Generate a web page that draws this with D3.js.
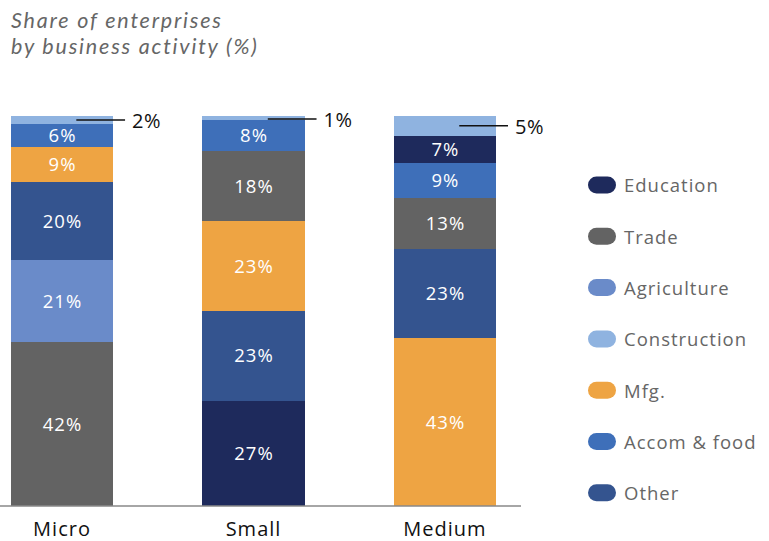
<!DOCTYPE html>
<html>
<head>
<meta charset="utf-8">
<script src="https://cdn.jsdelivr.net/npm/d3@7/dist/d3.min.js"></script>
<style>
  html, body { margin: 0; padding: 0; background: #fff; }
  svg { display: block; font-family: "Open Sans", "Noto Sans", sans-serif; }
</style>
</head>
<body>
<svg id="chart" width="769" height="541"></svg>
<script>
// Firm size groups along the x axis
const sizes = ["Micro", "Small", "Medium"];

// Activities, listed in legend order
const activities = ["Education", "Trade", "Agriculture", "Construction", "Mfg.", "Accom & food", "Other"];
const activityColors = ["#1e2a5c", "#636363", "#6a8bc9", "#8fb3e0", "#eea443", "#3e6fb9", "#34548f"];

// Stack order inside each bar, bottom to top, with share (%) of enterprises
const microStack = ["Trade", "Agriculture", "Other", "Mfg.", "Accom & food", "Construction"];
const microValues = [42, 21, 20, 9, 6, 2];

const smallStack = ["Education", "Other", "Mfg.", "Trade", "Accom & food", "Construction"];
const smallValues = [27, 23, 23, 18, 8, 1];

const mediumStack = ["Mfg.", "Other", "Trade", "Accom & food", "Education", "Construction"];
const mediumValues = [43, 23, 13, 9, 7, 5];

const titleLines = ["Share of enterprises", "by business activity (%)"];

// Build stacked segments per bar
const stacks = [microStack, smallStack, mediumStack];
const values = [microValues, smallValues, mediumValues];
const segments = [];
sizes.forEach((s, i) => {
  let acc = 0;
  stacks[i].forEach((a, j) => {
    const v = values[i][j];
    segments.push({ size: s, activity: a, value: v, y0: acc, y1: acc + v });
    acc += v;
  });
});

const svg = d3.select("#chart");
const color = d3.scaleOrdinal().domain(activities).range(activityColors);

const x = d3.scaleBand().domain(sizes).range([11, 496]).paddingInner(0.467).paddingOuter(0);
const y = d3.scaleLinear().domain([0, 100]).range([506, 116]);

// Title, two lines
svg.append("g").selectAll("text").data(titleLines).join("text")
  .attr("x", 11).attr("y", (d, i) => 28 + i * 26)
  .attr("fill", "#666").attr("font-size", 21.5).attr("font-style", "italic")
  .attr("font-family", "Lato, \"Open Sans\", sans-serif")
  .attr("letter-spacing", 1.8)
  .text(d => d);

// Bars
svg.append("g").attr("shape-rendering", "crispEdges")
  .selectAll("rect").data(segments).join("rect")
  .attr("x", d => x(d.size))
  .attr("width", x.bandwidth())
  .attr("y", d => Math.round(y(d.y1)))
  .attr("height", d => Math.round(y(d.y0)) - Math.round(y(d.y1)))
  .attr("fill", d => color(d.activity));

// In-bar value labels (segments large enough to hold text)
svg.append("g").selectAll("text").data(segments.filter(d => d.value >= 6)).join("text")
  .attr("x", d => x(d.size) + x.bandwidth() / 2 + 0.5)
  .attr("y", d => (y(d.y0) + y(d.y1)) / 2)
  .attr("dy", "0.35em")
  .attr("text-anchor", "middle")
  .attr("fill", "#fff").attr("font-size", 18.5)
  .attr("letter-spacing", 1)
  .text(d => d.value + "%");

// Callouts for thin top segments
const small = segments.filter(d => d.value < 6);
const callouts = svg.append("g");
small.forEach(d => {
  const cy = Math.max((y(d.y0) + y(d.y1)) / 2, y(d.y1) + 3);
  const xStart = x(d.size) + x.bandwidth() * 0.64;
  const xEnd = x(d.size) + x.bandwidth() + 12;
  callouts.append("line")
    .attr("x1", xStart).attr("x2", xEnd)
    .attr("y1", cy).attr("y2", cy)
    .attr("stroke", "#111").attr("stroke-width", 1.5);
  callouts.append("text")
    .attr("x", xEnd + 7).attr("y", cy + 1).attr("dy", "0.35em")
    .attr("fill", "#111").attr("font-size", 20)
    .attr("letter-spacing", 0.5)
    .text(d.value + "%");
});

// Baseline
svg.append("line")
  .attr("x1", 0).attr("x2", 521)
  .attr("y1", y(0)).attr("y2", y(0))
  .attr("stroke", "#888").attr("stroke-width", 1.5);

// x-axis labels
const xAxis = svg.append("g")
  .attr("transform", `translate(0,${y(0)})`)
  .call(d3.axisBottom(x).tickSize(0).tickPadding(16));
xAxis.select(".domain").remove();
xAxis.selectAll("text")
  .attr("fill", "#111").attr("font-size", 20)
  .attr("letter-spacing", 1)
  .attr("font-family", "\"Open Sans\", \"Noto Sans\", sans-serif");

// Legend
const legend = svg.append("g").selectAll("g").data(activities).join("g")
  .attr("transform", (d, i) => `translate(588,${185 + i * 51.3})`);
legend.append("rect")
  .attr("x", 0).attr("y", -8.5).attr("width", 28).attr("height", 17)
  .attr("rx", 8.5).attr("ry", 8.5)
  .attr("fill", d => color(d));
legend.append("text")
  .attr("x", 36).attr("y", 1).attr("dy", "0.35em")
  .attr("fill", "#666").attr("font-size", 18.5)
  .attr("letter-spacing", 1)
  .text(d => d);
</script>
</body>
</html>
